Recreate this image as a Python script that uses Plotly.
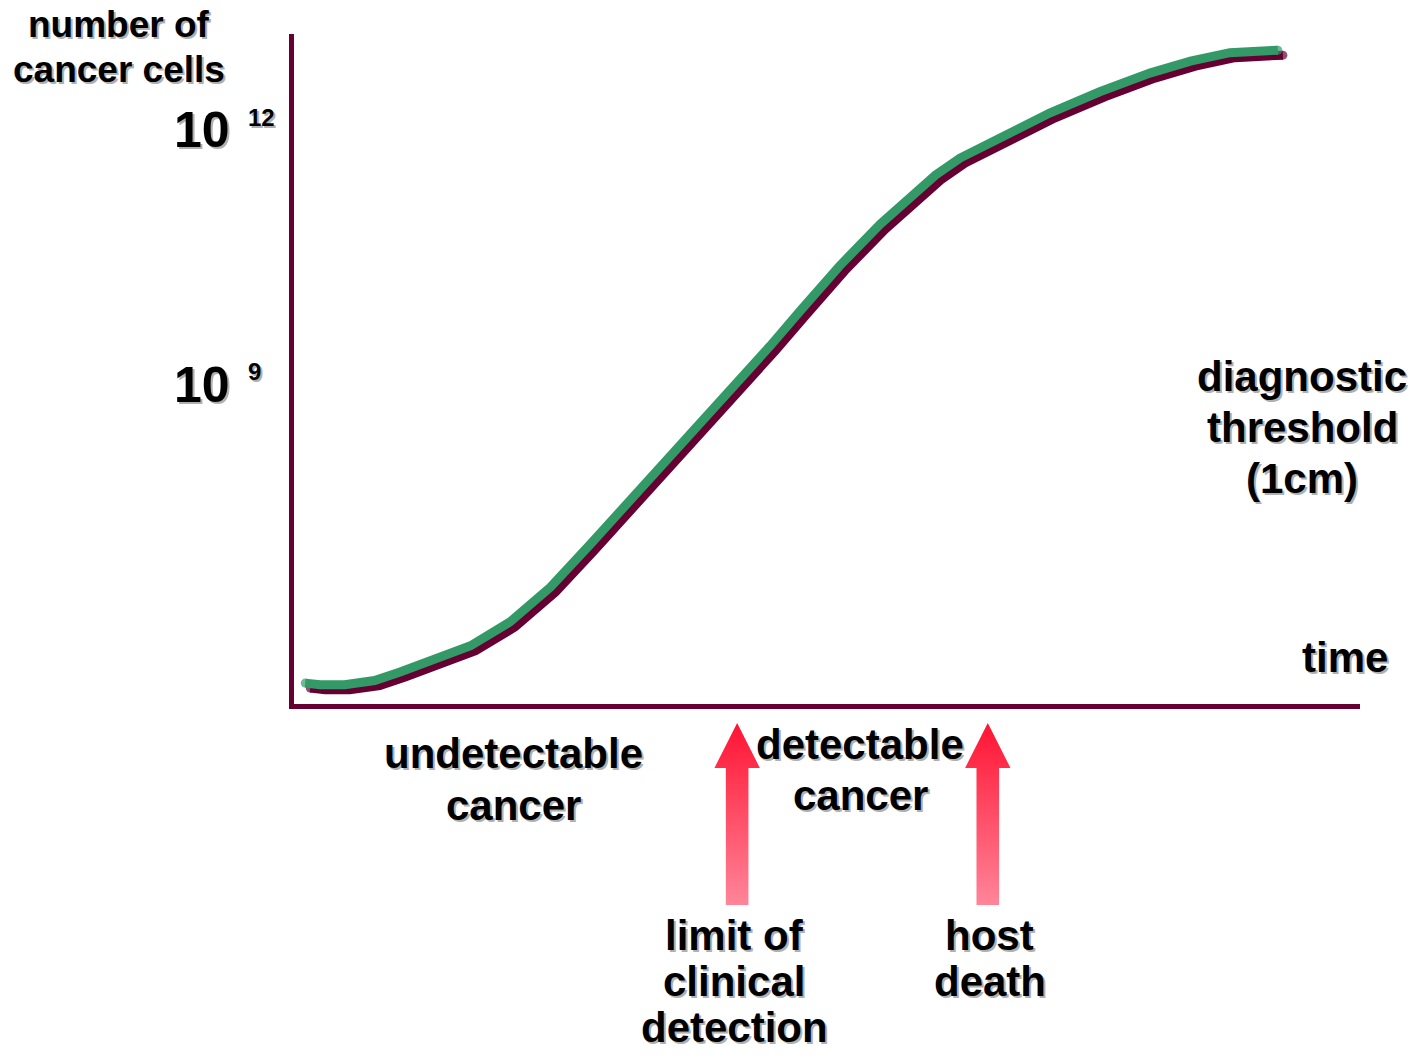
import plotly.graph_objects as go

# Tumour growth curve: time (arbitrary units) vs log10(number of cancer cells)
time = [1.1, 2.5, 4.8, 7.6, 10.0, 12.8, 16.6, 20.3, 24.1, 27.8, 31.6, 35.3,
        40.0, 41.9, 44.7, 47.5, 51.2, 55.0, 57.8, 60.2, 62.5, 66.2, 70.9,
        75.6, 80.3, 84.1, 87.8, 92.3]
log_cells = [5.49, 5.47, 5.47, 5.52, 5.62, 5.74, 5.93, 6.21, 6.62, 7.12,
             7.64, 8.16, 8.80, 9.06, 9.46, 9.87, 10.40, 10.89, 11.22, 11.47,
             11.67, 11.91, 12.20, 12.45, 12.67, 12.81, 12.91, 12.94]

# Marked events along the time axis
event_times = [41.6, 65.1]
event_labels = [["limit of", "clinical", "detection"], ["host", "death"]]

# Y-axis reference levels (powers of ten)
tick_exponents = [12, 9]

W, H = 1417, 1055
X_RANGE = [0, 100]
Y_RANGE = [5.25, 13.13]
PLOT_L, PLOT_R, PLOT_T, PLOT_B = 293.5, 1360, 34, 703.5

AXIS_COLOR = "#660033"
CURVE_COLOR = "#339966"
FONT = "Liberation Sans, Arial, sans-serif"

px_per_t = (PLOT_R - PLOT_L) / (X_RANGE[1] - X_RANGE[0])
px_per_dec = (PLOT_B - PLOT_T) / (Y_RANGE[1] - Y_RANGE[0])

fig = go.Figure()

# Drop shadow under the curve, offset a few pixels down and right
shadow_dx = 5 / px_per_t
shadow_dy = 5 / px_per_dec
n = len(time)
cap_sizes = [9] + [0] * (n - 2) + [9]
fig.add_trace(go.Scatter(
    x=[t + shadow_dx for t in time], y=[v - shadow_dy for v in log_cells],
    mode="lines+markers", line=dict(color=AXIS_COLOR, width=9),
    marker=dict(color=AXIS_COLOR, size=cap_sizes, line=dict(width=0)),
    hoverinfo="skip", showlegend=False))
fig.add_trace(go.Scatter(
    x=time, y=log_cells,
    mode="lines+markers", line=dict(color=CURVE_COLOR, width=9),
    marker=dict(color=CURVE_COLOR, size=cap_sizes, line=dict(width=0)),
    showlegend=False))

# Gradient arrows pointing up at the event times (drawn in a lower strip)
shaft_half = 11.3 / px_per_t
head_half = 22.7 / px_per_t
tip, head_base, tail = 0.962, 0.832, 0.435
for t in event_times:
    xs = [t, t + head_half, t + shaft_half, t + shaft_half,
          t - shaft_half, t - shaft_half, t - head_half, t]
    ys = [tip, head_base, head_base, tail, tail, head_base, head_base, tip]
    fig.add_trace(go.Scatter(
        x=xs, y=ys, xaxis="x2", yaxis="y2", mode="lines",
        line=dict(width=0), fill="toself",
        fillgradient=dict(type="vertical",
                          colorscale=[[0, "#FF8599"], [1, "#FF1433"]]),
        hoverinfo="skip", showlegend=False))

annotations = []


def label(text, x, y, size, xref="paper", yref="paper", xanchor="center"):
    """Bold text with a soft grey drop shadow."""
    for color, dx, dy in (("#b0b0b0", 2, -2), ("#000000", 0, 0)):
        annotations.append(dict(
            text=text, x=x, y=y, xref=xref, yref=yref,
            xanchor=xanchor, yanchor="middle", showarrow=False,
            xshift=dx, yshift=dy, borderpad=0, borderwidth=0,
            font=dict(family=FONT, size=size, color=color, weight=700)))


def px(xp):
    return xp / W


def py(yp):
    return 1 - yp / H


def lines(texts, xc, y0, step, size=42):
    for i, s in enumerate(texts):
        label(s, px(xc), py(y0 + i * step), size)


# Axis titles
lines(["number of", "cancer cells"], 119, 24, 45, size=37)
lines(["time"], 1345, 657, 0)

# Power-of-ten tick labels, positioned on the y scale
for e in tick_exponents:
    label("10", px(202), e, 50, yref="y")
    label(str(e), px(248), e + 13 / px_per_dec, 24, yref="y", xanchor="left")

# Region and threshold notes
lines(["diagnostic", "threshold", "(1cm)"], 1302, 376, 51)
lines(["undetectable", "cancer"], 513, 753, 52)
lines(["detectable", "cancer"], 860, 744, 51)

# Event captions under the arrows
caption_dx = [-3, 2]
for t, caps, dx in zip(event_times, event_labels, caption_dx):
    xc = PLOT_L + (t - X_RANGE[0]) * px_per_t + dx
    lines(caps, xc, 936, 45.5)

fig.update_layout(
    width=W, height=H,
    margin=dict(l=0, r=0, t=0, b=0),
    paper_bgcolor="white", plot_bgcolor="white",
    annotations=annotations,
    xaxis=dict(domain=[PLOT_L / W, PLOT_R / W], range=X_RANGE,
               showline=True, linecolor=AXIS_COLOR, linewidth=5,
               showgrid=False, zeroline=False, showticklabels=False,
               ticks="", anchor="y"),
    yaxis=dict(domain=[1 - PLOT_B / H, 1 - PLOT_T / H], range=Y_RANGE,
               showline=True, linecolor=AXIS_COLOR, linewidth=5,
               showgrid=False, zeroline=False, showticklabels=False,
               ticks="", anchor="x"),
    xaxis2=dict(domain=[PLOT_L / W, PLOT_R / W], matches="x",
                visible=False, anchor="y2"),
    yaxis2=dict(domain=[0, 345 / H], range=[0, 1], visible=False,
                anchor="x2"),
)

fig.write_html("out.html")
